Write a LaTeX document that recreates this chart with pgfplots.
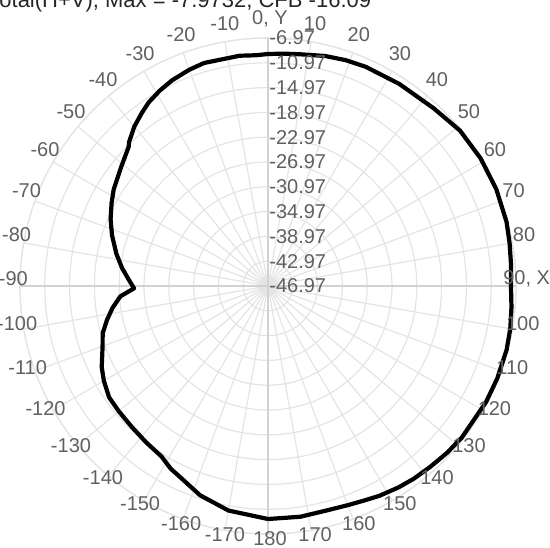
\documentclass[border=0pt]{standalone}
\usepackage{pgfplots}
\pgfplotsset{compat=1.18}
\usepackage{pgfplotstable}
\usepgfplotslibrary{polar}
\usepackage{fontspec}
\setmainfont{Liberation Sans}
\definecolor{lbl}{HTML}{606060}
\definecolor{grd}{HTML}{E4E4E4}
\definecolor{grdax}{HTML}{D2D2D2}

% theta in degrees (0 = +Y, clockwise positive), gain in dB
\pgfplotstableread{
theta db
-180 -9.39
-170 -10.20
-162 -11.49
-155 -13.10
-152 -13.58
-148 -14.55
-142 -15.00
-136 -15.36
-130 -15.55
-125 -15.68
-120 -16.40
-116 -17.13
-110 -18.58
-106 -19.23
-102 -20.40
-98 -21.65
-94 -23.10
-91 -25.36
-87 -24.39
-83 -23.26
-78 -21.97
-72 -20.52
-67 -19.39
-62 -18.40
-58 -17.62
-51 -16.49
-47 -15.68
-45 -15.20
-44 -14.71
-40 -13.42
-36 -12.40
-33 -11.65
-29 -10.95
-25 -10.36
-20 -9.85
-16 -9.55
-7 -9.55
-3 -9.70
0 -9.55
4 -9.40
8 -9.23
14 -8.74
19 -8.45
24 -8.26
33 -8.10
43 -7.78
51 -7.13
59 -6.97
67 -6.97
75 -7.13
80 -7.40
85 -7.62
90 -7.78
95 -7.55
100 -7.29
105 -7.13
112 -7.10
118 -7.13
128 -7.29
133 -7.50
138 -7.78
143 -8.00
147 -8.26
152 -8.65
156 -9.07
160 -9.35
165 -9.55
172 -9.39
180 -9.39
}\gaindata

\tikzset{
  al/.style={text=lbl, font=\fontsize{10}{12}\selectfont, inner sep=0pt, anchor=center, xshift=1pt, yshift=3.5pt},
  rl/.style={text=lbl, font=\fontsize{10}{12}\selectfont, inner sep=0pt, anchor=west, xshift=0.5pt},
}

\begin{document}
\begin{tikzpicture}
\useasboundingbox (-134pt,-130.5pt) rectangle (141pt,143pt);
\clip (-134pt,-130.5pt) rectangle (141pt,143pt);
\begin{polaraxis}[
  at={(0,0)}, anchor=center,
  scale only axis, width=248pt, height=248pt,
  xmin=0, xmax=360, ymin=0, ymax=40,
  xtick={0,10,...,350}, ytick={0,4,...,40},
  xticklabels={}, yticklabels={},
  grid=major,
  major grid style={grd, line width=0.6pt},
  axis line style={grd, line width=0.6pt},
  major tick length=0pt,
  clip=false,
]
\draw[grdax, line width=0.6pt] (axis cs:0,40) -- (axis cs:180,40);
\draw[grdax, line width=0.6pt] (axis cs:90,40) -- (axis cs:270,40);
\addplot[black, line width=2.1pt, line join=round, mark=none]
  table[x expr=90-\thisrow{theta}, y expr=\thisrow{db}+46.97] {\gaindata};
\node[al] at (axis cs:0,41.4) {90, X};
\node[al] at (axis cs:10,41.6) {80};
\node[al] at (axis cs:20,41.8) {70};
\node[al] at (axis cs:30,41.9) {60};
\node[al] at (axis cs:40,41.9) {50};
\node[al] at (axis cs:50,41.9) {40};
\node[al] at (axis cs:60,41.9) {30};
\node[al] at (axis cs:70,41.9) {20};
\node[al] at (axis cs:80,41.9) {10};
\node[al] at (axis cs:90,41.9) {0, Y};
\node[al] at (axis cs:100,41.9) {-10};
\node[al] at (axis cs:110,41.9) {-20};
\node[al] at (axis cs:120,41.9) {-30};
\node[al] at (axis cs:130,41.9) {-40};
\node[al] at (axis cs:140,41.9) {-50};
\node[al] at (axis cs:150,41.9) {-60};
\node[al] at (axis cs:160,41.8) {-70};
\node[al] at (axis cs:170,41.5) {-80};
\node[al] at (axis cs:180,41.4) {-90};
\node[al] at (axis cs:190,41.4) {-100};
\node[al] at (axis cs:200,41.6) {-110};
\node[al] at (axis cs:210,41.8) {-120};
\node[al] at (axis cs:220,41.9) {-130};
\node[al] at (axis cs:230,41.9) {-140};
\node[al] at (axis cs:240,41.9) {-150};
\node[al] at (axis cs:250,41.9) {-160};
\node[al] at (axis cs:260,41.9) {-170};
\node[al] at (axis cs:270,41.9) {180};
\node[al] at (axis cs:280,41.9) {170};
\node[al] at (axis cs:290,41.9) {160};
\node[al] at (axis cs:300,41.9) {150};
\node[al] at (axis cs:310,41.9) {140};
\node[al] at (axis cs:320,41.9) {130};
\node[al] at (axis cs:330,41.8) {120};
\node[al] at (axis cs:340,41.6) {110};
\node[al] at (axis cs:350,41.4) {100};
\node[rl] at (axis cs:90,0) {-46.97};
\node[rl] at (axis cs:90,4) {-42.97};
\node[rl] at (axis cs:90,8) {-38.97};
\node[rl] at (axis cs:90,12) {-34.97};
\node[rl] at (axis cs:90,16) {-30.97};
\node[rl] at (axis cs:90,20) {-26.97};
\node[rl] at (axis cs:90,24) {-22.97};
\node[rl] at (axis cs:90,28) {-18.97};
\node[rl] at (axis cs:90,32) {-14.97};
\node[rl] at (axis cs:90,36) {-10.97};
\node[rl] at (axis cs:90,40) {-6.97};
\end{polaraxis}
\node[anchor=base west, inner sep=0pt, text={black!85}, font=\fontsize{11}{13}\selectfont] at (-140pt,139.5pt) {Total(H+V), Max = -7.9732, CFB -16.09};
\end{tikzpicture}
\end{document}
